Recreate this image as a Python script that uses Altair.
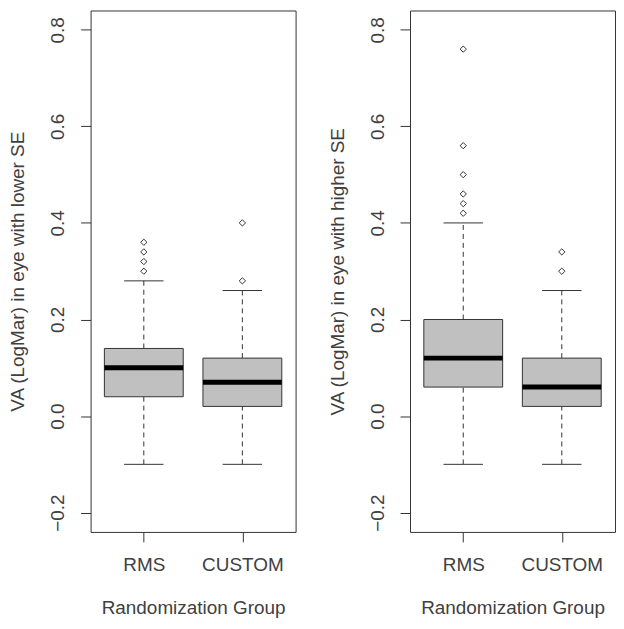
import altair as alt
import pandas as pd

GROUPS = ["RMS", "CUSTOM"]

# Left panel: VA in eye with lower SE
LOWER_Q1 = [0.04, 0.02]
LOWER_MED = [0.10, 0.07]
LOWER_Q3 = [0.14, 0.12]
LOWER_WLO = [-0.10, -0.10]
LOWER_WHI = [0.28, 0.26]
LOWER_OUT_RMS = [0.30, 0.32, 0.34, 0.36]
LOWER_OUT_CUSTOM = [0.28, 0.40]

# Right panel: VA in eye with higher SE
HIGHER_Q1 = [0.06, 0.02]
HIGHER_MED = [0.12, 0.06]
HIGHER_Q3 = [0.20, 0.12]
HIGHER_WLO = [-0.10, -0.10]
HIGHER_WHI = [0.40, 0.26]
HIGHER_OUT_RMS = [0.42, 0.44, 0.46, 0.50, 0.56, 0.76]
HIGHER_OUT_CUSTOM = [0.30, 0.34]

Y_TICKS = [-0.2, 0.0, 0.2, 0.4, 0.6, 0.8]

FONT = "Liberation Sans"
TEXT = "#404040"
LINE = "#333333"


def panel(q1, med, q3, wlo, whi, outs, ytitle):
    stats = pd.DataFrame({
        "group": GROUPS,
        "pos": list(range(1, len(GROUPS) + 1)),
        "q1": q1, "med": med, "q3": q3, "wlo": wlo, "whi": whi,
    })
    orows = []
    for i, vals in enumerate(outs):
        for v in vals:
            orows.append({"group": GROUPS[i], "pos": i + 1, "v": v})
    odf = pd.DataFrame(orows)

    label_expr = " : ".join(
        f"datum.value == {i + 1} ? '{g}'" for i, g in enumerate(GROUPS)
    ) + " : ''"

    xscale = alt.Scale(domain=[0.46, 2.54], nice=False, zero=False)
    yscale = alt.Scale(domain=[-0.24, 0.84], nice=False, zero=False)

    xaxis = alt.Axis(values=[1, 2], labelExpr=label_expr, title="Randomization Group",
                     domain=False, grid=False, tickSize=10, tickColor=LINE,
                     labelFont=FONT, labelFontSize=19, labelColor=TEXT, labelPadding=14,
                     titleFont=FONT, titleFontSize=19, titleFontWeight="normal",
                     titleColor=TEXT, titlePadding=24)
    yaxis = alt.Axis(values=Y_TICKS, format=".1f", title=ytitle,
                     domain=False, grid=False, tickSize=10, tickColor=LINE,
                     labelAngle=-90, labelAlign="center", labelBaseline="bottom",
                     labelFont=FONT, labelFontSize=19, labelColor=TEXT, labelPadding=13,
                     titleFont=FONT, titleFontSize=19, titleFontWeight="normal",
                     titleColor=TEXT, titlePadding=21)

    base = alt.Chart(stats).transform_calculate(
        bl="datum.pos - 0.4", br="datum.pos + 0.4",
        cl="datum.pos - 0.2", cr="datum.pos + 0.2",
    )

    upper = base.mark_rule(color=LINE, strokeWidth=1, strokeDash=[5, 4]).encode(
        x=alt.X("pos:Q", scale=xscale, axis=xaxis),
        y=alt.Y("q3:Q", scale=yscale, axis=yaxis),
        y2="whi:Q",
    )
    lower = base.mark_rule(color=LINE, strokeWidth=1, strokeDash=[5, 4]).encode(
        x="pos:Q", y="wlo:Q", y2="q1:Q",
    )
    cap_hi = base.mark_rule(color=LINE, strokeWidth=1).encode(
        x="cl:Q", x2="cr:Q", y="whi:Q",
    )
    cap_lo = base.mark_rule(color=LINE, strokeWidth=1).encode(
        x="cl:Q", x2="cr:Q", y="wlo:Q",
    )
    box = base.mark_rect(fill="#c0c0c0", stroke=LINE, strokeWidth=1).encode(
        x="bl:Q", x2="br:Q", y="q1:Q", y2="q3:Q",
    )
    median = base.mark_rule(color="#000000", strokeWidth=5).encode(
        x="bl:Q", x2="br:Q", y="med:Q",
    )
    points = alt.Chart(odf).mark_point(
        shape="diamond", filled=False, color=LINE, size=40, strokeWidth=1, opacity=1
    ).encode(x="pos:Q", y="v:Q")

    return alt.layer(upper, lower, cap_hi, cap_lo, box, median, points).properties(
        width=206, height=524
    )


left = panel(LOWER_Q1, LOWER_MED, LOWER_Q3, LOWER_WLO, LOWER_WHI,
             [LOWER_OUT_RMS, LOWER_OUT_CUSTOM], "VA (LogMar) in eye with lower SE")
right = panel(HIGHER_Q1, HIGHER_MED, HIGHER_Q3, HIGHER_WLO, HIGHER_WHI,
              [HIGHER_OUT_RMS, HIGHER_OUT_CUSTOM], "VA (LogMar) in eye with higher SE")

chart = alt.hconcat(left, right, spacing=31).properties(
    padding={"left": 0, "top": 0, "right": 0, "bottom": 0},
    background="white",
).configure_view(stroke=LINE, strokeWidth=1)

chart.save("out.html", embed_options={"renderer": "svg", "actions": False})
